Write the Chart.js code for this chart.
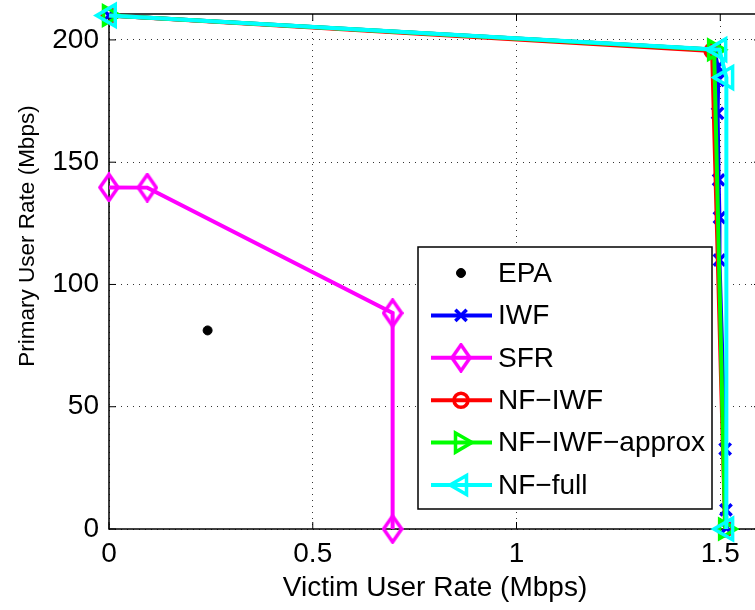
<!DOCTYPE html>
<html>
<head>
<meta charset="utf-8">
<script src="https://cdn.jsdelivr.net/npm/chart.js@4/dist/chart.umd.min.js"></script>
<style>
  html, body { margin: 0; padding: 0; background: #fff; overflow: hidden; }
  #wrap { width: 755px; height: 610px; overflow: hidden; }
</style>
</head>
<body>
<div id="wrap"><canvas id="myChart" width="761" height="610"></canvas></div>
<script>
// data
const xTicks = [0, 0.5, 1, 1.5];
const yTicks = [0, 50, 100, 150, 200];

const epaX = [0.242];
const epaY = [81.2];

const iwfX = [0, 1.485, 1.494, 1.495, 1.4935, 1.496, 1.498, 1.498, 1.512, 1.514, 1.515];
const iwfY = [210, 196, 189, 183.5, 170, 142.8, 127.3, 110, 32.7, 7.8, 0.4];

const sfrX = [0, 0.094, 0.696, 0.696];
const sfrY = [139.7, 139.6, 88.3, 0];

const nfIwfX = [0, 1.48, 1.512];
const nfIwfY = [210, 195.5, 0];

const approxX = [0, 1.485, 1.512];
const approxY = [210, 196, 0];

const fullX = [0, 1.498, 1.515, 1.515];
const fullY = [210, 196, 184.6, 0];

const xTitle = "Victim User Rate (Mbps)";
const yTitle = "Primary User Rate (Mbps)";

const FONT = '"Liberation Sans", Arial, Helvetica, sans-serif';

function pts(xs, ys) {
  return xs.map((x, i) => ({ x: x, y: ys[i] }));
}

// matlab style diamond (taller than wide)
function diamond(color) {
  const c = document.createElement("canvas");
  c.width = 22;
  c.height = 30;
  const g = c.getContext("2d");
  g.strokeStyle = color;
  g.lineWidth = 3.5;
  g.beginPath();
  g.moveTo(11, 2);
  g.lineTo(20, 15);
  g.lineTo(11, 28);
  g.lineTo(2, 15);
  g.closePath();
  g.stroke();
  return c;
}

function series(label, xs, ys, color, style, radius, extra) {
  return Object.assign({
    label: label,
    data: pts(xs, ys),
    showLine: true,
    clip: false,
    borderColor: color,
    backgroundColor: "rgba(0,0,0,0)",
    borderWidth: 4,
    pointStyle: style,
    pointRadius: radius,
    pointHoverRadius: radius,
    pointBorderColor: color,
    pointBackgroundColor: "rgba(0,0,0,0)",
    pointBorderWidth: 3.5,
  }, extra || {});
}

const datasets = [
  series("EPA", epaX, epaY, "#000000", "circle", 4.5, {
    showLine: false, pointBackgroundColor: "#000000", pointBorderWidth: 1, order: 6,
  }),
  series("IWF", iwfX, iwfY, "#0000ff", "crossRot", 8, { order: 5 }),
  series("SFR", sfrX, sfrY, "#ff00ff", diamond("#ff00ff"), 11, { order: 4 }),
  series("NF\u2212IWF", nfIwfX, nfIwfY, "#ff0000", "circle", 7, { order: 3 }),
  series("NF\u2212IWF\u2212approx", approxX, approxY, "#00ff00", "triangle", 11, {
    pointRotation: 90, order: 2,
  }),
  series("NF\u2212full", fullX, fullY, "#00ffff", "triangle", 12.5, {
    pointRotation: -90, order: 1,
  }),
];

// axes box with inward ticks, like matlab
const framePlugin = {
  id: "frame",
  beforeDatasetsDraw(chart) {
    const { ctx, chartArea: a, scales } = chart;
    ctx.save();
    ctx.strokeStyle = "#000";
    ctx.lineWidth = 1.5;
    ctx.strokeRect(a.left, a.top, a.right - a.left, a.bottom - a.top);
    ctx.lineWidth = 1;
    ctx.beginPath();
    xTicks.forEach((v) => {
      const px = scales.x.getPixelForValue(v);
      ctx.moveTo(px, a.bottom);
      ctx.lineTo(px, a.bottom - 7);
      ctx.moveTo(px, a.top);
      ctx.lineTo(px, a.top + 7);
    });
    yTicks.forEach((v) => {
      const py = scales.y.getPixelForValue(v);
      ctx.moveTo(a.left, py);
      ctx.lineTo(a.left + 7, py);
      ctx.moveTo(a.right, py);
      ctx.lineTo(a.right - 7, py);
    });
    ctx.stroke();

    // ylabel sits a bit above the axes centre in the original
    ctx.fillStyle = "#000";
    ctx.font = "22.5px " + FONT;
    ctx.textAlign = "center";
    ctx.textBaseline = "middle";
    ctx.translate(28, 236);
    ctx.rotate(-Math.PI / 2);
    ctx.fillText(yTitle, 0, 0);
    ctx.restore();
  },
};

// legend box with line + marker samples
const legendPlugin = {
  id: "matLegend",
  afterDraw(chart) {
    const ctx = chart.ctx;
    const bx = 418, by = 247, bw = 294, bh = 262;
    ctx.save();
    ctx.fillStyle = "#fff";
    ctx.fillRect(bx, by, bw, bh);
    ctx.strokeStyle = "#000";
    ctx.lineWidth = 1.5;
    ctx.strokeRect(bx, by, bw, bh);
    ctx.font = "28px " + FONT;
    ctx.textBaseline = "middle";
    chart.data.datasets.forEach((ds, i) => {
      const cy = by + 26 + i * 42.4;
      ctx.strokeStyle = ds.borderColor;
      ctx.fillStyle = ds.pointBackgroundColor;
      ctx.lineWidth = ds.borderWidth;
      if (ds.showLine) {
        ctx.beginPath();
        ctx.moveTo(bx + 13, cy);
        ctx.lineTo(bx + 74, cy);
        ctx.stroke();
      }
      ctx.lineWidth = ds.pointBorderWidth;
      Chart.helpers.drawPoint(ctx, {
        pointStyle: ds.pointStyle,
        radius: Math.min(ds.pointRadius, 11),
        borderWidth: ds.pointBorderWidth,
        rotation: ds.pointRotation || 0,
      }, bx + 43, cy);
      ctx.fillStyle = "#000";
      ctx.fillText(ds.label, bx + 80, cy + 1);
    });
    ctx.restore();
  },
};

const gridOpts = { color: "#333", lineWidth: 1, drawTicks: false };

new Chart(document.getElementById("myChart"), {
  type: "scatter",
  data: { datasets: datasets },
  options: {
    responsive: false,
    animation: false,
    devicePixelRatio: 1,
    layout: { autoPadding: false, padding: { left: 0, right: 0, top: 14, bottom: 0 } },
    plugins: { legend: { display: false }, tooltip: { enabled: false } },
    scales: {
      x: {
        type: "linear",
        min: 0,
        max: 1.6,
        afterBuildTicks: (s) => { s.ticks = xTicks.map((v) => ({ value: v })); },
        afterFit: (s) => {
          s.height = 81;
          s.paddingLeft = 0;
          s.paddingRight = 0;
        },
        grid: gridOpts,
        border: { display: false, dash: [1, 5] },
        ticks: {
          color: "#000",
          font: { family: FONT, size: 28 },
          padding: 8,
          maxRotation: 0,
          callback: (v) => String(v),
        },
        title: {
          display: true,
          text: xTitle,
          color: "#000",
          font: { family: FONT, size: 28 },
          padding: { top: 0, bottom: 5 },
        },
      },
      y: {
        type: "linear",
        min: 0,
        max: 210.6,
        afterBuildTicks: (s) => { s.ticks = yTicks.map((v) => ({ value: v })); },
        afterFit: (s) => {
          s.width = 109;
          s.paddingTop = 0;
          s.paddingBottom = 0;
        },
        grid: gridOpts,
        border: { display: false, dash: [1, 5] },
        ticks: {
          color: "#000",
          font: { family: FONT, size: 28 },
          padding: 10,
          callback: (v) => String(v),
        },
        title: { display: false },
      },
    },
  },
  plugins: [framePlugin, legendPlugin],
});
</script>
</body>
</html>
